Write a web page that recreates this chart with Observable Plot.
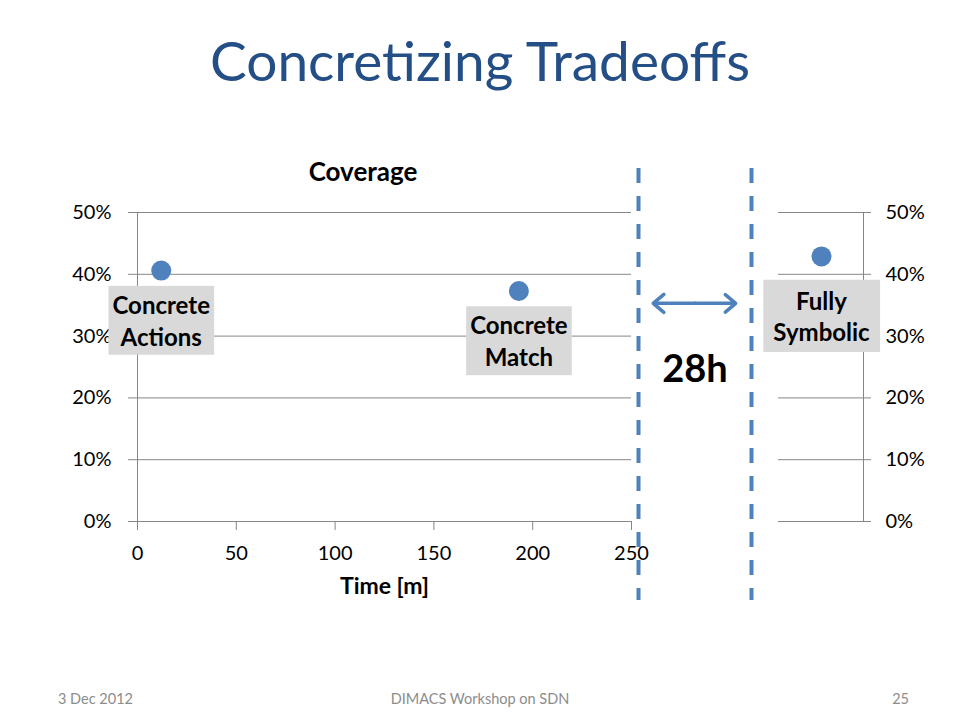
<!DOCTYPE html>
<html>
<head>
<meta charset="utf-8">
<script src="https://cdn.jsdelivr.net/npm/d3@7"></script>
<script src="https://cdn.jsdelivr.net/npm/@observablehq/plot@0.6"></script>
<style>
  body { margin: 0; background: #fff; font-family: Lato, "Open Sans", sans-serif; }
  #page { position: relative; width: 960px; height: 720px; overflow: hidden; background: #fff; }
  #title { position: absolute; left: 0; top: 27px; width: 960px; text-align: center;
           font-size: 55px; line-height: 1.2; color: #244E86; }
  #chart { position: absolute; left: 0; top: 130px; width: 960px; height: 490px; }
  #chart svg { position: absolute; left: 0; top: 0; overflow: visible; }
  #chartTitle { position: absolute; left: 263px; width: 200px; top: 26px; text-align: center;
                font-size: 26px; font-weight: bold; color: #000; line-height: 1.2; }
  .foot { position: absolute; top: 690px; font-size: 14.5px; color: #8C8C8C; line-height: 1.2; }
</style>
</head>
<body>
<div id="page">
  <div id="title">Concretizing Tradeoffs</div>
  <div id="chart"><div id="chartTitle">Coverage</div></div>
  <div class="foot" style="left:58px">3 Dec 2012</div>
  <div class="foot" style="left:0;width:960px;text-align:center">DIMACS Workshop on SDN</div>
  <div class="foot" style="right:51px;text-align:right">25</div>
</div>
<script>
// ---- data ----
const methods = ["Concrete\nActions", "Concrete\nMatch"];
const times = [12, 193];            // minutes
const coverage = [0.406, 0.373];    // fraction
const symbolicMethod = "Fully\nSymbolic";
const symbolicCoverage = 0.429;     // runs 28h, off the time axis
const xTicks = [0, 50, 100, 150, 200, 250];
const yTicks = [0, 0.1, 0.2, 0.3, 0.4, 0.5];
const gapLabel = "28h";
const gapEdges = [0, 1];            // the axis break (normalized)
const gapArrowEnds = [0.13, 0.86];
const gapArrowLevel = 0.353;        // coverage level of the arrow
const gapLabelLevel = 0.226;

const mainData = methods.map((m, i) => ({method: m, time: times[i], coverage: coverage[i]}));
const symData = [{method: symbolicMethod, coverage: symbolicCoverage}];

const W = 960, H = 490;
const gridColor = "#868686";
const dotColor = "#4F81BD";
const pct = d3.format(".0%");
const font = "Lato, 'Open Sans', sans-serif";

// ---- main chart ----
const main = Plot.plot({
  width: W, height: H,
  marginLeft: 137, marginRight: 329, marginTop: 82, marginBottom: 99,
  style: {fontFamily: font, fontSize: "20px", color: "#000", background: "transparent"},
  x: {domain: [0, 250]},
  y: {domain: [0, 0.5]},
  marks: [
    Plot.ruleY(yTicks, {stroke: gridColor, strokeWidth: 1}),
    Plot.frame({anchor: "left", stroke: gridColor}),
    Plot.axisY({ticks: yTicks, tickFormat: pct, tickSize: 9, tickPadding: 17, stroke: gridColor, label: null, fontSize: 20}),
    Plot.axisX({ticks: xTicks, tickSize: 9, tickPadding: 15, stroke: gridColor, label: null, fontSize: 20}),
    Plot.axisX({ticks: [], label: "Time [m]", labelAnchor: "center", labelArrow: "none", labelOffset: 72, fontWeight: "bold", fontSize: 23}),
    Plot.dot(mainData, {x: "time", y: "coverage", r: 10, fill: dotColor, stroke: null}),
    Plot.text(mainData, {x: "time", y: "coverage", text: "method", dy: 49, lineHeight: 1.33,
      fontSize: 24, fontWeight: "bold", fill: "#000", lineAnchor: "middle"})
  ]
});

// ---- right panel (Fully Symbolic) ----
const sym = Plot.plot({
  width: W, height: H,
  marginLeft: 778, marginRight: 97, marginTop: 82, marginBottom: 99,
  style: {fontFamily: font, fontSize: "20px", color: "#000", background: "transparent"},
  x: {type: "point", domain: [symbolicMethod], axis: null},
  y: {domain: [0, 0.5]},
  marks: [
    Plot.ruleY(yTicks, {stroke: gridColor, strokeWidth: 1}),
    Plot.frame({anchor: "right", stroke: gridColor}),
    Plot.axisY({anchor: "right", ticks: yTicks, tickFormat: pct, tickSize: 7, tickPadding: 15, stroke: gridColor, label: null, fontSize: 20}),
    Plot.dot(symData, {x: "method", y: "coverage", r: 10, fill: dotColor, stroke: null}),
    Plot.text(symData, {x: "method", y: "coverage", text: "method", dy: 59, lineHeight: 1.3,
      fontSize: 24, fontWeight: "bold", fill: "#000", lineAnchor: "middle"})
  ]
});

// ---- axis break annotation ----
const gap = Plot.plot({
  width: W, height: H,
  marginLeft: 638, marginRight: 209, marginTop: 38, marginBottom: 20,
  style: {fontFamily: font, background: "transparent"},
  x: {domain: [0, 1], axis: null},
  y: {domain: [0, 0.5], range: [391, 82], axis: null},
  marks: [
    Plot.ruleX(gapEdges, {stroke: dotColor, strokeWidth: 4, strokeDasharray: "15,13"}),
    Plot.arrow([{a: 0.5, b: gapArrowEnds[0]}, {a: 0.5, b: gapArrowEnds[1]}], {
      x1: "a", x2: "b", y1: () => gapArrowLevel, y2: () => gapArrowLevel,
      stroke: dotColor, strokeWidth: 3.5, headLength: 14, headAngle: 80}),
    Plot.text([gapLabel], {x: () => 0.5, y: () => gapLabelLevel, text: d => d,
      fontSize: 38, fontWeight: "bold", fill: "#000", lineAnchor: "bottom"})
  ]
});

const container = document.getElementById("chart");
container.appendChild(main);
container.appendChild(sym);
container.appendChild(gap);

// grey label boxes behind the point labels
function boxLabels(svg, padX, padY) {
  svg.querySelectorAll('g[aria-label="text"] text').forEach(t => {
    const b = t.getBBox();
    const r = document.createElementNS("http://www.w3.org/2000/svg", "rect");
    r.setAttribute("x", b.x - padX);
    r.setAttribute("y", b.y - padY);
    r.setAttribute("width", b.width + 2 * padX);
    r.setAttribute("height", b.height + 2 * padY);
    r.setAttribute("fill", "#D9D9D9");
    const tr = t.getAttribute("transform");
    if (tr) r.setAttribute("transform", tr);
    t.parentNode.insertBefore(r, t);
  });
}
boxLabels(main, 4, 4);
boxLabels(sym, 10, 6);
</script>
</body>
</html>
